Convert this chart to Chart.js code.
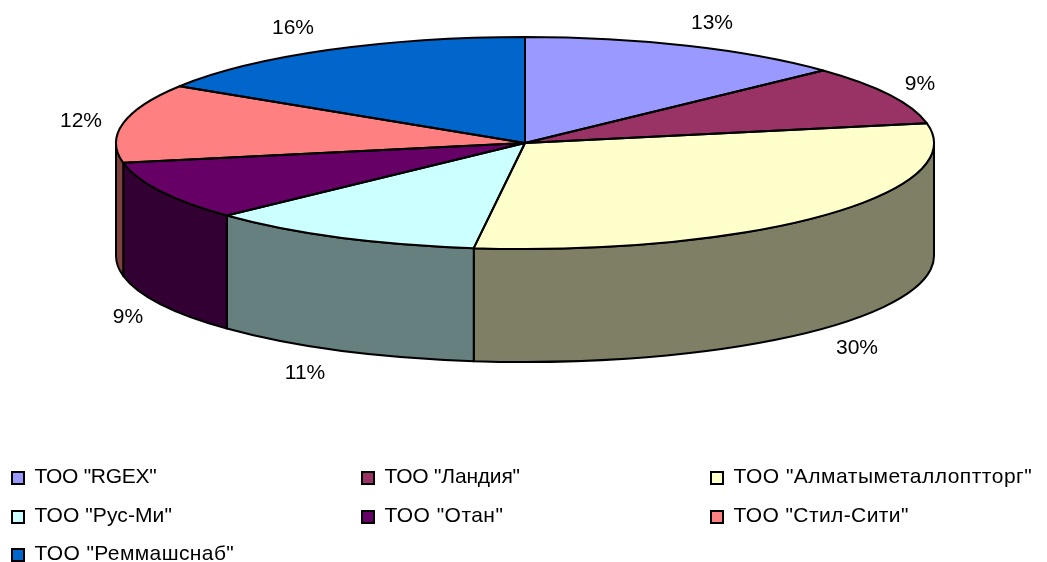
<!DOCTYPE html>
<html>
<head>
<meta charset="utf-8">
<style>
  html, body { margin: 0; padding: 0; background: #fff; }
  canvas { display: block; }
</style>
<script src="https://cdn.jsdelivr.net/npm/chart.js@4/dist/chart.umd.min.js"></script>
</head>
<body>
<canvas id="chart" width="1047" height="562"></canvas>
<script>
const categories = ['ТОО "RGEX"', 'ТОО "Ландия"', 'ТОО "Алматыметаллоптторг"', 'ТОО "Рус-Ми"', 'ТОО "Отан"', 'ТОО "Стил-Сити"', 'ТОО "Реммашснаб"'];
const shares = [13, 9, 30, 11, 9, 12, 16];
const colors = ['#9999FF', '#993366', '#FFFFCC', '#CCFFFF', '#660066', '#FF8080', '#0066CC'];

const FONT = '21px "Liberation Sans", Arial, sans-serif';
const RX = 409;
const RY = 106;
const DEPTH = 113;

// centre of each percent label, by slice
const labelSpots = [[712, 23], [920, 84], [857, 348], [305, 373], [128, 317], [81, 121], [293, 28]];
const legendCols = [12, 362, 711];
const legendRows = [477, 516, 554];
// the source's hinted text runs a little wide or narrow
const legendSpacing = [-0.3, -0.2, 0.5, 0.1, 0.45, 0.4, 0.4];

// half brightness for the pie's outer wall
function darken(hex) {
  const n = parseInt(hex.slice(1), 16);
  const r = (n >> 16) >> 1, g = ((n >> 8) & 255) >> 1, b = (n & 255) >> 1;
  return `rgb(${r},${g},${b})`;
}

// squashes the library's circular arcs into the tilted ellipse and adds the wall
const tiltPlugin = {
  id: 'tilt',
  beforeDatasetDraw(chart, args) {
    const ctx = chart.ctx;
    const arcs = args.meta.data;
    const cx = arcs[0].x, cy = arcs[0].y;

    ctx.save();
    ctx.lineWidth = 2;
    ctx.strokeStyle = '#000';
    ctx.lineJoin = 'round';
    arcs.forEach(function (arc, i) {
      const a = Math.max(arc.startAngle, 0);
      const b = Math.min(arc.endAngle, Math.PI);
      if (a >= b) return;
      ctx.beginPath();
      ctx.ellipse(cx, cy, RX, RY, 0, a, b);
      ctx.ellipse(cx, cy + DEPTH, RX, RY, 0, b, a, true);
      ctx.closePath();
      ctx.fillStyle = darken(colors[i]);
      ctx.fill();
      ctx.stroke();
    });
    ctx.restore();

    ctx.save();
    ctx.translate(cx, cy);
    ctx.scale(1, RY / RX);
    ctx.translate(-cx, -cy);
  },
  afterDatasetDraw(chart, args) {
    const ctx = chart.ctx;
    ctx.restore();

    ctx.save();
    ctx.lineWidth = 2;
    ctx.strokeStyle = '#000';
    ctx.lineJoin = 'round';
    args.meta.data.forEach(function (arc) {
      ctx.beginPath();
      ctx.moveTo(arc.x, arc.y);
      ctx.ellipse(arc.x, arc.y, RX, RY, 0, arc.startAngle, arc.endAngle);
      ctx.closePath();
      ctx.stroke();
    });
    ctx.restore();
  },
  afterDraw(chart) {
    const ctx = chart.ctx;
    ctx.save();
    ctx.font = FONT;
    ctx.fillStyle = '#000';

    // percent labels
    ctx.textAlign = 'center';
    ctx.textBaseline = 'middle';
    shares.forEach(function (v, i) {
      ctx.fillText(v + '%', labelSpots[i][0], labelSpots[i][1]);
    });

    // legend, three columns
    ctx.textAlign = 'left';
    categories.forEach(function (name, i) {
      const x = legendCols[i % 3];
      const y = legendRows[Math.floor(i / 3)];
      ctx.fillStyle = colors[i];
      ctx.fillRect(x, y - 5, 12, 12);
      ctx.lineWidth = 2;
      ctx.strokeStyle = '#000';
      ctx.strokeRect(x, y - 5, 12, 12);
      ctx.fillStyle = '#000';
      ctx.letterSpacing = legendSpacing[i] + 'px';
      ctx.fillText(name, x + 22.5, y);
    });
    ctx.restore();
  }
};

new Chart(document.getElementById('chart'), {
  type: 'pie',
  data: {
    labels: categories,
    datasets: [{
      data: shares,
      backgroundColor: colors,
      borderWidth: 0,
      radius: RX,
      clip: false
    }]
  },
  options: {
    responsive: false,
    animation: false,
    events: [],
    layout: { padding: { left: 3, top: 0, right: 0, bottom: 276 } },
    plugins: {
      legend: { display: false },
      tooltip: { enabled: false }
    }
  },
  plugins: [tiltPlugin]
});
</script>
</body>
</html>
